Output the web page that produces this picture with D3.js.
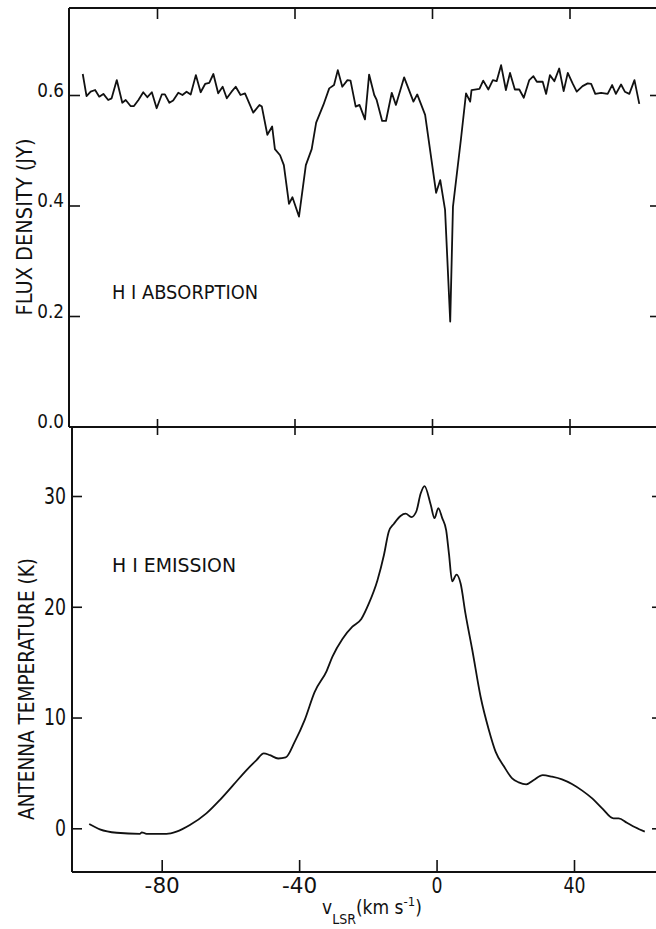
<!DOCTYPE html>
<html>
<head>
<meta charset="utf-8">
<script src="https://cdn.jsdelivr.net/npm/d3@7"></script>
<style>
  body { margin: 0; background: #fff; }
  svg text { font-family: "Liberation Sans Narrow", "DejaVu Sans Condensed", "DejaVu Sans", sans-serif; font-stretch: condensed; fill: #111; }
  .domain { display: none; }
  .tick line { stroke: #111; stroke-width: 1.6; }
</style>
</head>
<body>
<div id="chart"></div>
<script>
// velocity ticks shared by both panels
var vTicks = [-80, -40, 0, 40];
var fluxTicks = [0.0, 0.2, 0.4, 0.6];
var tempTicks = [0, 10, 20, 30];

// HI absorption (flux density, Jy)
var absV = [-101.6,-100.5,-99.3,-98.0,-96.8,-95.6,-94.2,-93.2,-91.7,-90.1,-89.1,-87.7,-86.7,-85.4,-84.0,-82.8,-81.5,-80.1,
  -78.6,-77.7,-76.4,-75.3,-73.8,-72.6,-71.4,-70.2,-68.7,-67.3,-66.0,-64.8,-63.6,-62.2,-60.9,-59.7,-58.3,-57.1,-55.7,-54.4,
  -52.0,-50.2,-49.5,-47.9,-46.5,-45.7,-44.2,-43.1,-41.6,-40.6,-38.7,-36.7,-35.0,-33.7,-31.6,-29.9,-28.5,-27.4,-26.1,-24.6,
  -23.7,-22.2,-21.1,-19.5,-18.3,-16.8,-16.1,-14.5,-13.4,-11.7,-10.5,-8.1,-5.4,-4.3,-2.0,1.2,2.4,3.8,5.3,6.1,8.4,9.9,11.1,
  11.5,13.8,14.9,16.4,17.7,18.8,20.1,21.5,22.7,24.1,25.4,26.7,28.3,29.5,30.5,32.2,33.2,34.3,35.6,37.0,38.3,39.5,40.9,42.1,
  43.8,45.3,46.3,47.5,49.2,51.1,52.4,53.5,55.0,56.1,57.4,58.9,60.3];
var absFlux = [0.638,0.598,0.606,0.609,0.597,0.602,0.591,0.594,0.627,0.586,0.591,0.580,0.580,0.591,0.605,0.596,0.605,0.576,
  0.601,0.601,0.586,0.590,0.604,0.600,0.606,0.601,0.636,0.605,0.620,0.622,0.638,0.603,0.615,0.594,0.606,0.615,0.600,0.603,
  0.568,0.582,0.579,0.528,0.543,0.502,0.491,0.473,0.403,0.415,0.380,0.473,0.502,0.550,0.582,0.612,0.618,0.645,0.615,0.627,
  0.626,0.579,0.582,0.556,0.637,0.600,0.591,0.553,0.553,0.604,0.582,0.632,0.588,0.601,0.564,0.423,0.446,0.392,0.190,0.398,
  0.519,0.603,0.588,0.609,0.611,0.626,0.610,0.627,0.625,0.654,0.609,0.640,0.610,0.610,0.595,0.627,0.634,0.624,0.624,0.602,
  0.636,0.625,0.648,0.607,0.640,0.621,0.606,0.616,0.621,0.620,0.602,0.604,0.602,0.618,0.602,0.619,0.606,0.602,0.627,0.584];

// HI emission (antenna temperature, K)
var emV = [-101.1,-98.0,-93.1,-86.3,-85.8,-84.4,-78.6,-75.7,-71.8,-67.0,-63.1,-59.2,-55.3,-52.4,-50.3,-48.5,-46.1,-43.9,
  -41.3,-38.4,-35.5,-32.0,-30.3,-27.4,-24.5,-21.9,-19.7,-17.2,-15.3,-13.9,-12.4,-10.5,-9.0,-7.3,-5.9,-4.65,-3.5,-1.7,-0.6,
  0.5,1.65,2.8,3.6,4.55,5.8,7.0,8.4,10.4,12.8,15.2,17.2,19.6,22.0,23.9,26.1,28.3,30.9,33.6,36.5,39.4,42.4,45.3,48.2,51.5,
  53.0,55.4,57.8,60.6];
var emTemp = [0.39,-0.09,-0.4,-0.5,-0.36,-0.5,-0.5,-0.3,0.3,1.35,2.55,3.9,5.26,6.16,6.77,6.6,6.3,6.4,
  7.8,9.77,12.3,14.2,15.5,17.1,18.2,18.9,20.3,22.4,24.7,26.8,27.5,28.2,28.4,28.1,28.6,30.2,30.9,29.2,28.0,
  28.9,28.0,26.9,24.8,22.3,22.9,22.1,19.4,16.1,11.9,8.9,6.9,5.6,4.5,4.15,3.97,4.36,4.8,4.66,4.42,4.0,3.4,2.7,1.8,0.9,
  0.9,0.5,0.09,-0.3];

var W = 656, H = 929;
var svg = d3.select("#chart").append("svg").attr("width", W).attr("height", H);

// the original lettering is narrow: squeeze labels to a per-character width
function narrow(sel, digitW) {
  sel.each(function() {
    var s = this.textContent, w = 0;
    for (var i = 0; i < s.length; i++) w += s[i] === "." ? digitW * 0.55 : s[i] === "-" ? digitW * 1.2 : digitW;
    d3.select(this).attr("textLength", w).attr("lengthAdjust", "spacingAndGlyphs");
  });
}

// upper panel scales
var xTop = d3.scaleLinear().domain([-80, 40]).range([157, 569.5]);
var yTop = d3.scaleLinear().domain([0, 0.6]).range([426.5, 95]);
// lower panel scales (scan is slightly skewed)
var xBot = d3.scaleLinear().domain([-80, 40]).range([161.7, 574]);
var yBot = d3.scaleLinear().domain([0, 30]).range([828.3, 496]);

var topL = 69, topT = 8, midY = 427, botL = 72, botB = 872, right = 658;

// frame lines
var frame = svg.append("g").attr("stroke", "#111").attr("stroke-width", 2).attr("fill", "none");
frame.append("line").attr("x1", topL).attr("y1", topT).attr("x2", right).attr("y2", topT);
frame.append("line").attr("x1", topL).attr("y1", topT).attr("x2", topL).attr("y2", midY);
frame.append("line").attr("x1", topL).attr("y1", midY).attr("x2", right).attr("y2", midY);
frame.append("line").attr("x1", botL).attr("y1", midY).attr("x2", botL).attr("y2", botB);
frame.append("line").attr("x1", botL).attr("y1", botB).attr("x2", right).attr("y2", botB);

// upper panel axes (labels sit on the tick)
svg.append("g").attr("transform", "translate(" + topL + ",0)")
  .call(d3.axisLeft(yTop).tickValues(fluxTicks).tickSizeInner(-11).tickSizeOuter(0).tickPadding(5).tickFormat(d3.format(".1f")))
  .selectAll("text").attr("dy", "0.05em").style("font-size", "20px").call(narrow, 10.5);
svg.append("g").attr("transform", "translate(" + right + ",0)")
  .call(d3.axisRight(yTop).tickValues(fluxTicks.slice(1)).tickSizeInner(-8).tickSizeOuter(0).tickFormat(""));
svg.append("g").attr("transform", "translate(0," + topT + ")")
  .call(d3.axisTop(xTop).tickValues(vTicks).tickSizeInner(-11).tickSizeOuter(0).tickFormat(""));
svg.append("g").attr("transform", "translate(0," + midY + ")")
  .call(d3.axisTop(xTop).tickValues(vTicks).tickSizeInner(8).tickSizeOuter(0).tickFormat(""));
svg.append("g").attr("transform", "translate(0," + midY + ")")
  .call(d3.axisBottom(xTop).tickValues(vTicks).tickSizeInner(8).tickSizeOuter(0).tickFormat(""));

// lower panel axes
svg.append("g").attr("transform", "translate(" + botL + ",0)")
  .call(d3.axisLeft(yBot).tickValues(tempTicks).tickSizeInner(-10).tickSizeOuter(0).tickPadding(6))
  .selectAll("text").style("font-size", "23px").call(narrow, 11);
svg.append("g").attr("transform", "translate(" + right + ",0)")
  .call(d3.axisRight(yBot).tickValues(tempTicks).tickSizeInner(-6).tickSizeOuter(0).tickFormat(""));
svg.append("g").attr("transform", "translate(0," + botB + ")")
  .call(d3.axisBottom(xBot).tickValues(vTicks).tickSizeInner(-12).tickSizeOuter(0).tickPadding(6)
    .tickFormat(function(d) { return d < 0 ? "-" + Math.abs(d) : d; }))
  .selectAll("text").style("font-size", "21px").call(narrow, 11);

// curves
var absLine = d3.line()
  .x(function(d, i) { return xTop(absV[i]); })
  .y(function(d) { return yTop(d); });
svg.append("path").datum(absFlux)
  .attr("fill", "none").attr("stroke", "#111").attr("stroke-width", 1.8).attr("stroke-linejoin", "round")
  .attr("d", absLine);

var emLine = d3.line()
  .curve(d3.curveMonotoneX)
  .x(function(d, i) { return xBot(emV[i]); })
  .y(function(d) { return yBot(d); });
svg.append("path").datum(emTemp)
  .attr("fill", "none").attr("stroke", "#111").attr("stroke-width", 1.8).attr("stroke-linejoin", "round")
  .attr("d", emLine);

// panel labels
svg.append("text").attr("x", 112).attr("y", 298.5).style("font-size", "20px")
  .attr("textLength", 146).attr("lengthAdjust", "spacingAndGlyphs").text("H I ABSORPTION");
svg.append("text").attr("x", 112).attr("y", 571.5).style("font-size", "20px")
  .attr("textLength", 124).attr("lengthAdjust", "spacingAndGlyphs").text("H I EMISSION");

// axis titles
svg.append("text").attr("transform", "translate(32,227) rotate(-90)").attr("text-anchor", "middle")
  .style("font-size", "21px").attr("textLength", 177).attr("lengthAdjust", "spacingAndGlyphs")
  .text("FLUX DENSITY (JY)");
svg.append("text").attr("transform", "translate(34,689) rotate(-90)").attr("text-anchor", "middle")
  .style("font-size", "21px").attr("textLength", 262).attr("lengthAdjust", "spacingAndGlyphs")
  .text("ANTENNA TEMPERATURE (K)");

var xt = svg.append("text").attr("x", 322).attr("y", 914).style("font-size", "19px");
xt.append("tspan").text("v");
xt.append("tspan").attr("dy", 10).style("font-size", "14px").text("LSR");
xt.append("tspan").attr("dy", -10).text("(km s");
xt.append("tspan").attr("dy", -8).style("font-size", "13px").text("-1");
xt.append("tspan").attr("dy", 8).text(")");
</script>
</body>
</html>
